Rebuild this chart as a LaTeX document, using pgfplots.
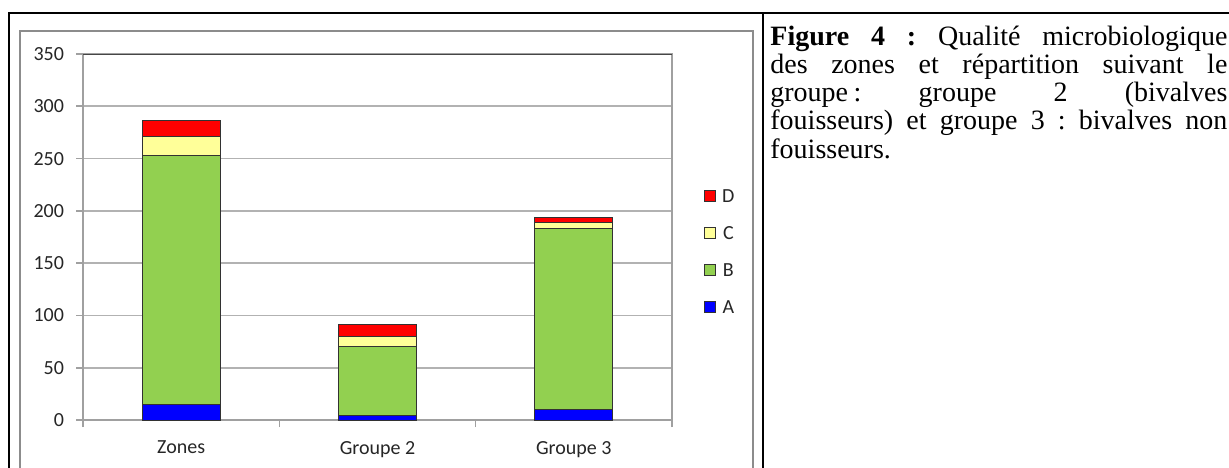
\documentclass[border=0pt]{standalone}
\usepackage{fontspec}
\setmainfont{Liberation Serif}
\newfontfamily\chartfont{Carlito}
\usepackage{pgfplots}
\pgfplotsset{compat=1.18}
\definecolor{cD}{RGB}{255,0,0}
\definecolor{cC}{RGB}{255,255,153}
\definecolor{cB}{RGB}{146,208,80}
\definecolor{cA}{RGB}{0,0,255}
\definecolor{gridc}{RGB}{178,178,178}
\definecolor{axisc}{RGB}{160,160,160}
\definecolor{boxc}{RGB}{140,140,140}
\definecolor{topc}{RGB}{70,70,70}
\definecolor{barline}{RGB}{50,50,50}
\begin{document}
\begin{tikzpicture}
\useasboundingbox (0,0) rectangle (614.5pt,233.5pt);
\fill[white] (0,0) rectangle (614.5pt,233.5pt);
% chart area border
\draw[boxc, line width=1pt] (10pt,-5pt) -- (10pt,218pt) -- (376.5pt,218pt) -- (376.5pt,-5pt);
% outer table frame
\draw[black, line width=1.3pt] (4.5pt,-5pt) -- (4.5pt,227pt) -- (620pt,227pt);
\draw[black, line width=1.3pt] (381.5pt,-5pt) -- (381.5pt,227pt);
\begin{axis}[
  at={(41.5pt,23.5pt)}, anchor=south west,
  scale only axis, width=294.5pt, height=183pt,
  ybar stacked, bar width=39pt,
  xmin=-0.5, xmax=2.5, ymin=0, ymax=350,
  ytick={0,50,...,350},
  xtick={-0.5,0.5,1.5,2.5}, xticklabels={},
  extra x ticks={0,1,2},
  extra x tick labels={Zones,Groupe 2,Groupe 3},
  extra x tick style={major tick length=0pt, grid=none,
    xticklabel style={yshift=-7pt}},
  xtick pos=bottom, ytick pos=left, tick align=outside,
  major tick length=3.5pt,
  axis line style={axisc, line width=0.8pt},
  every tick/.style={axisc, line width=0.8pt},
  ymajorgrids, grid style={gridc, line width=0.8pt},
  /pgf/number format/assume math mode=true,
  ticklabel style={font=\chartfont\fontsize{10pt}{11pt}\selectfont, text=black!85},
  yticklabel style={xshift=-2.5pt},
  legend style={at={(1.054,0.461)}, anchor=west, draw=none, fill=none,
    font=\chartfont\fontsize{10pt}{11pt}\selectfont, text=black!85,
    row sep=12pt, column sep=3pt, inner sep=0pt,
    nodes={inner sep=0pt, text height=6.5pt, text depth=0pt}},
  reverse legend,
]
\addplot[fill=cA, draw=barline, line width=0.5pt,
  legend image code/.code={\draw[fill=cA, draw=barline, line width=0.5pt] (0pt,-2.75pt) rectangle (5.5pt,2.75pt);}]
  coordinates {(0,15) (1,4) (2,10)};
\addplot[fill=cB, draw=barline, line width=0.5pt,
  legend image code/.code={\draw[fill=cB, draw=barline, line width=0.5pt] (0pt,-2.75pt) rectangle (5.5pt,2.75pt);}]
  coordinates {(0,238) (1,66) (2,173)};
\addplot[fill=cC, draw=barline, line width=0.5pt,
  legend image code/.code={\draw[fill=cC, draw=barline, line width=0.5pt] (0pt,-2.75pt) rectangle (5.5pt,2.75pt);}]
  coordinates {(0,18) (1,10) (2,6)};
\addplot[fill=cD, draw=barline, line width=0.5pt,
  legend image code/.code={\draw[fill=cD, draw=barline, line width=0.5pt] (0pt,-2.75pt) rectangle (5.5pt,2.75pt);}]
  coordinates {(0,15) (1,11) (2,5)};
\legend{A,B,C,D}
\draw[topc, line width=0.8pt] (axis cs:-0.5,350) -- (axis cs:2.5,350);
\end{axis}
\node[anchor=base west, inner sep=0pt] at (385pt,211pt) {\parbox[t]{228.5pt}{\fontsize{14pt}{14.15pt}\selectfont\frenchspacing\lineskiplimit=-100pt\setlength{\parindent}{0pt}%
\makebox[\linewidth][s]{\textbf{Figure 4 :} Qualité microbiologique}\par
\makebox[\linewidth][s]{des zones et répartition suivant le}\par
\makebox[\linewidth][s]{groupe\hspace{0.2em}: groupe 2 (bivalves}\par
\makebox[\linewidth][s]{fouisseurs) et groupe 3 : bivalves non}\par
fouisseurs.}};
\end{tikzpicture}
\end{document}
